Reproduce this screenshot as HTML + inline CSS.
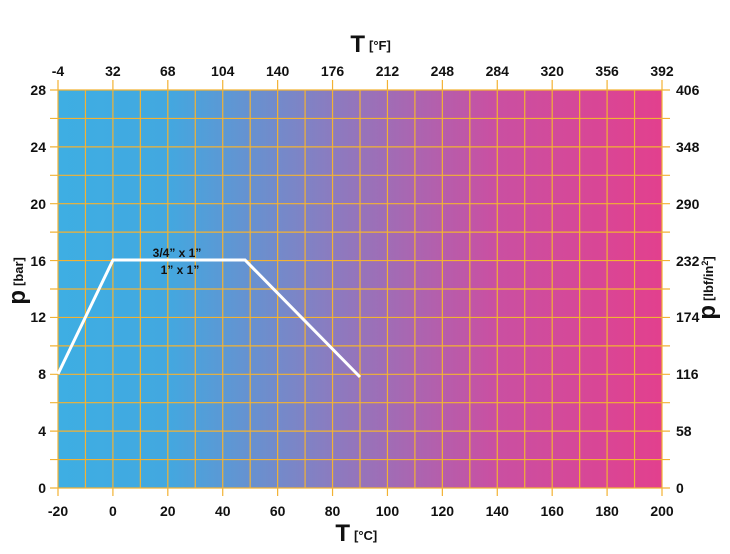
<!DOCTYPE html>
<html><head><style>body{margin:0;background:#fff}svg text{font-family:"Liberation Sans",sans-serif;fill:#111}</style></head><body>
<svg width="730" height="549" viewBox="0 0 730 549">
<defs><linearGradient id="g" x1="0" x2="1" y1="0" y2="0">
<stop offset="0" stop-color="#3eaee3"/><stop offset="0.18" stop-color="#42a8e0"/><stop offset="0.45" stop-color="#8a7cc0"/><stop offset="0.72" stop-color="#c950a2"/><stop offset="1" stop-color="#e2408e"/></linearGradient></defs>
<rect x="58" y="90" width="604" height="398" fill="url(#g)"/>
<path stroke="#f2b233" stroke-width="1.2" fill="none" d="
M58 90V488M85.45 90V488M112.91 90V488M140.36 90V488M167.82 90V488M195.27 90V488M222.73 90V488M250.18 90V488M277.64 90V488M305.09 90V488M332.55 90V488M360 90V488M387.45 90V488M414.91 90V488M442.36 90V488M469.82 90V488M497.27 90V488M524.73 90V488M552.18 90V488M579.64 90V488M607.09 90V488M634.55 90V488M662 90V488
M50 90H670M50 118.43H670M50 146.86H670M50 175.29H670M50 203.71H670M50 232.14H670M50 260.57H670M50 289H670M50 317.43H670M50 345.86H670M50 374.29H670M50 402.71H670M50 431.14H670M50 459.57H670M50 488H670
M58 80V90M112.91 80V90M167.82 80V90M222.73 80V90M277.64 80V90M332.55 80V90M387.45 80V90M442.36 80V90M497.27 80V90M552.18 80V90M607.09 80V90M662 80V90
M58 488V496M112.91 488V496M167.82 488V496M222.73 488V496M277.64 488V496M332.55 488V496M387.45 488V496M442.36 488V496M497.27 488V496M552.18 488V496M607.09 488V496M662 488V496"/>
<polyline points="58,374 113,260 245,260 360,377" fill="none" stroke="#fff" stroke-width="3"/>
<text x="177" y="257" font-size="12" font-weight="bold" text-anchor="middle">3/4” x 1”</text>
<text x="180" y="274" font-size="12" font-weight="bold" text-anchor="middle">1” x 1”</text>
<g font-size="14" font-weight="bold" text-anchor="middle">
<text x="58" y="76">-4</text><text x="112.91" y="76">32</text><text x="167.82" y="76">68</text><text x="222.73" y="76">104</text><text x="277.64" y="76">140</text><text x="332.55" y="76">176</text><text x="387.45" y="76">212</text><text x="442.36" y="76">248</text><text x="497.27" y="76">284</text><text x="552.18" y="76">320</text><text x="607.09" y="76">356</text><text x="662" y="76">392</text>
<text x="58" y="516">-20</text><text x="112.91" y="516">0</text><text x="167.82" y="516">20</text><text x="222.73" y="516">40</text><text x="277.64" y="516">60</text><text x="332.55" y="516">80</text><text x="387.45" y="516">100</text><text x="442.36" y="516">120</text><text x="497.27" y="516">140</text><text x="552.18" y="516">160</text><text x="607.09" y="516">180</text><text x="662" y="516">200</text>
</g>
<g font-size="14" font-weight="bold" text-anchor="end">
<text x="46" y="493">0</text><text x="46" y="436">4</text><text x="46" y="379">8</text><text x="46" y="322">12</text><text x="46" y="266">16</text><text x="46" y="209">20</text><text x="46" y="152">24</text><text x="46" y="95">28</text>
</g>
<g font-size="14" font-weight="bold">
<text x="676" y="493">0</text><text x="676" y="436">58</text><text x="676" y="379">116</text><text x="676" y="322">174</text><text x="676" y="266">232</text><text x="676" y="209">290</text><text x="676" y="152">348</text><text x="676" y="95">406</text>
</g>
<text x="365" y="52" font-size="24" font-weight="bold" text-anchor="end">T</text><text x="369" y="50" font-size="13" font-weight="bold">[°F]</text>
<text x="350" y="541" font-size="24" font-weight="bold" text-anchor="end">T</text><text x="354" y="540" font-size="13" font-weight="bold">[°C]</text>
<g transform="translate(25,290) rotate(-90)"><text x="0" y="0" font-size="24" font-weight="bold" text-anchor="end">p</text><text x="4" y="-2" font-size="13" font-weight="bold">[bar]</text></g>
<g transform="translate(715,305) rotate(-90)"><text x="0" y="0" font-size="24" font-weight="bold" text-anchor="end">p</text><text x="4" y="-2" font-size="13" font-weight="bold">[lbf/in<tspan baseline-shift="super" font-size="9">2</tspan>]</text></g>
</svg></body></html>
